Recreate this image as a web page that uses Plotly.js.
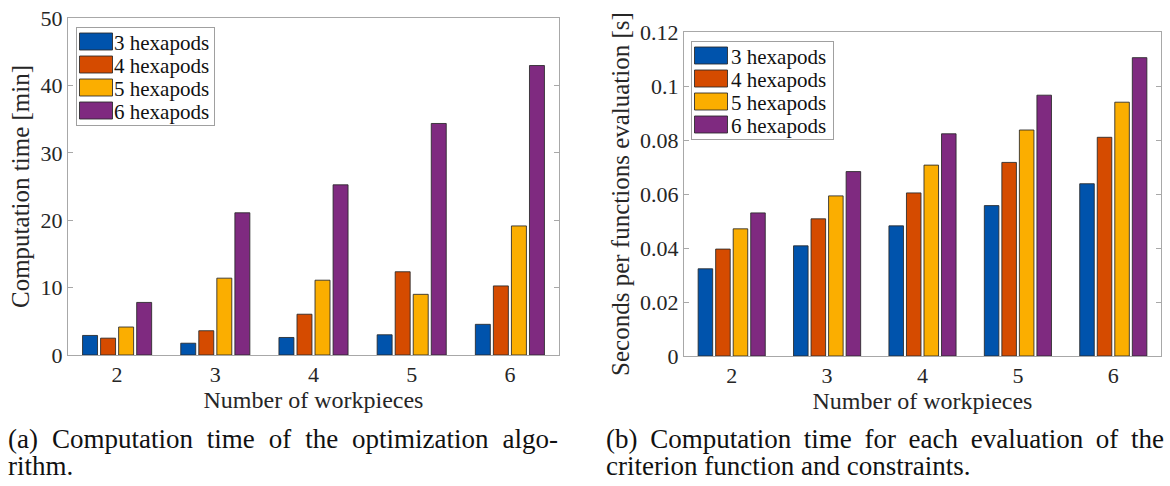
<!DOCTYPE html>
<html>
<head>
<meta charset="utf-8">
<script src="https://cdn.plot.ly/plotly-3.0.1.min.js"></script>
<style>
  html, body { margin: 0; padding: 0; background: #ffffff; }
  #chart { width: 1170px; height: 486px; }
</style>
</head>
<body>
<div id="chart"></div>
<script>
// ---------- data ----------
const workpieces = [2, 3, 4, 5, 6];
const seriesNames = ['3 hexapods', '4 hexapods', '5 hexapods', '6 hexapods'];
const seriesColors = ['#0053AC', '#D54B00', '#FBAE00', '#7F2A80'];

// (a) computation time [min]
const timeMin3 = [2.9, 1.75, 2.6, 3.0, 4.55];
const timeMin4 = [2.5, 3.6, 6.05, 12.35, 10.25];
const timeMin5 = [4.15, 11.4, 11.1, 9.0, 19.15];
const timeMin6 = [7.8, 21.1, 25.25, 34.35, 42.95];

// (b) seconds per functions evaluation [s]
const evalSec3 = [0.0323, 0.0408, 0.0482, 0.0557, 0.0638];
const evalSec4 = [0.0396, 0.0508, 0.0604, 0.0717, 0.0810];
const evalSec5 = [0.0471, 0.0593, 0.0707, 0.0837, 0.0940];
const evalSec6 = [0.0530, 0.0683, 0.0823, 0.0966, 0.1105];

const yTicksA = [0, 10, 20, 30, 40, 50];
const yTickTextA = ['0', '10', '20', '30', '40', '50'];
const yTicksB = [0, 0.02, 0.04, 0.06, 0.08, 0.1, 0.12];
const yTickTextB = ['0', '0.02', '0.04', '0.06', '0.08', '0.1', '0.12'];
const xTickText = ['2', '3', '4', '5', '6'];

const captionA1 = '(a) Computation time of the optimization algo-';
const captionA2 = 'rithm.';
const captionB1 = '(b) Computation time for each evaluation of the';
const captionB2 = 'criterion function and constraints.';

// ---------- build ----------
const FONT = 'Liberation Serif, DejaVu Serif, serif';
const TXT = '#262626';
const AX = '#a8a8a8';

const setA = [timeMin3, timeMin4, timeMin5, timeMin6];
const setB = [evalSec3, evalSec4, evalSec5, evalSec6];

const traces = [];
setA.forEach((vals, i) => traces.push({
  type: 'bar', x: workpieces, y: vals, name: seriesNames[i],
  xaxis: 'x', yaxis: 'y', legend: 'legend',
  marker: { color: seriesColors[i], line: { color: 'rgba(40,40,40,0.85)', width: 1 } }
}));
setB.forEach((vals, i) => traces.push({
  type: 'bar', x: workpieces, y: vals, name: seriesNames[i],
  xaxis: 'x2', yaxis: 'y2', legend: 'legend2',
  marker: { color: seriesColors[i], line: { color: 'rgba(40,40,40,0.85)', width: 1 } }
}));

const W = 1170, H = 486;
const px = v => v / W;
const py = v => 1 - v / H;

function xAxis(domain, anchor) {
  return {
    domain: domain, anchor: anchor, range: [1.5, 6.5],
    tickvals: workpieces, ticktext: xTickText, ticks: '',
    showline: true, mirror: true, linecolor: AX, linewidth: 1,
    showgrid: false, zeroline: false, fixedrange: true,
    tickfont: { family: FONT, size: 22, color: TXT },
    title: { text: 'Number of workpieces', font: { family: FONT, size: 24, color: TXT }, standoff: 4 }
  };
}
function yAxis(domain, anchor, range, tv, tt, title) {
  return {
    domain: domain, anchor: anchor, range: range,
    tickvals: tv, ticktext: tt, ticks: 'inside', ticklen: 5, tickcolor: AX, tickwidth: 1,
    showline: true, mirror: 'ticks', linecolor: AX, linewidth: 1,
    showgrid: false, zeroline: false, fixedrange: true,
    tickfont: { family: FONT, size: 22, color: TXT },
    title: { text: title, font: { family: FONT, size: 25, color: TXT }, standoff: 3 }
  };
}
function legendCfg(x, y) {
  return {
    x: x, y: y, xanchor: 'left', yanchor: 'top',
    bgcolor: '#ffffff', bordercolor: '#a0a0a0', borderwidth: 1,
    font: { family: FONT, size: 21, color: '#111' },
    itemwidth: 30, tracegroupgap: 0, traceorder: 'normal'
  };
}

const capFont = { family: FONT, size: 27, color: '#111' };
const layout = {
  width: W, height: H,
  margin: { l: 0, r: 0, t: 0, b: 0 },
  paper_bgcolor: '#ffffff', plot_bgcolor: '#ffffff',
  barmode: 'group', bargap: 0.265, bargroupgap: 0.17,
  showlegend: true,
  xaxis: xAxis([px(68), px(559)], 'y'),
  yaxis: yAxis([py(355), py(18)], 'x', [0, 50], yTicksA, yTickTextA, 'Computation time [min]'),
  xaxis2: xAxis([px(684), px(1161)], 'y2'),
  yaxis2: yAxis([py(356), py(32)], 'x2', [0, 0.12], yTicksB, yTickTextB, 'Seconds per functions evaluation [s]'),
  legend: legendCfg(px(76), py(27)),
  legend2: legendCfg(px(691), py(41)),
  annotations: [
    { text: captionA1, x: px(6), y: py(439), xref: 'paper', yref: 'paper', xanchor: 'left', yanchor: 'middle', showarrow: false, font: capFont },
    { text: captionA2, x: px(6), y: py(466), xref: 'paper', yref: 'paper', xanchor: 'left', yanchor: 'middle', showarrow: false, font: capFont },
    { text: captionB1, x: px(604), y: py(439), xref: 'paper', yref: 'paper', xanchor: 'left', yanchor: 'middle', showarrow: false, font: capFont },
    { text: captionB2, x: px(604), y: py(466), xref: 'paper', yref: 'paper', xanchor: 'left', yanchor: 'middle', showarrow: false, font: capFont }
  ]
};

// Legend cosmetics: larger MATLAB-like swatches and tighter row spacing.
function styleLegends() {
  const ROW = 23, PAD = 3;
  document.querySelectorAll('#chart g.legendpoints path').forEach(p => {
    p.setAttribute('d', 'M16.5,8.5H-16.5V-8.5H16.5Z');
  });
  document.querySelectorAll('#chart g.infolayer > g[class^="legend"]').forEach(leg => {
    const items = leg.querySelectorAll('g.traces');
    if (!items.length) return;
    let maxR = 0;
    items.forEach((it, i) => {
      it.setAttribute('transform', 'translate(0,' + (PAD + ROW / 2 + i * ROW) + ')');
      const t = it.querySelector('text.legendtext');
      if (t) {
        t.setAttribute('x', '38');
        const b = t.getBBox();
        maxR = Math.max(maxR, b.x + b.width);
      }
    });
    const bg = leg.querySelector('rect.bg');
    if (bg) {
      bg.setAttribute('height', 2 * PAD + items.length * ROW);
      if (maxR > 0) bg.setAttribute('width', Math.round(maxR + 5));
    }
  });
}

// Justify the first caption lines like LaTeX does (stretch inter-word spaces).
function justifyCaptions() {
  const targets = {};
  targets[captionA1] = 550;
  targets[captionB1] = 558;
  document.querySelectorAll('#chart g.annotation text.annotation-text').forEach(t => {
    const txt = t.textContent;
    if (!(txt in targets)) return;
    const spaces = (txt.match(/ /g) || []).length;
    const b0 = t.getBBox();
    const ws = (targets[txt] - b0.width) / spaces;
    t.style.wordSpacing = ws + 'px';
    const b1 = t.getBBox();
    const dx = b0.x - b1.x;
    const nodes = [t].concat(Array.from(t.querySelectorAll('tspan[x]')));
    nodes.forEach(n => {
      const x = parseFloat(n.getAttribute('x') || '0');
      n.setAttribute('x', x + dx);
    });
  });
}

Plotly.newPlot('chart', traces, layout, { staticPlot: true, displayModeBar: false }).then(gd => {
  styleLegends();
  justifyCaptions();
});
</script>
</body>
</html>
